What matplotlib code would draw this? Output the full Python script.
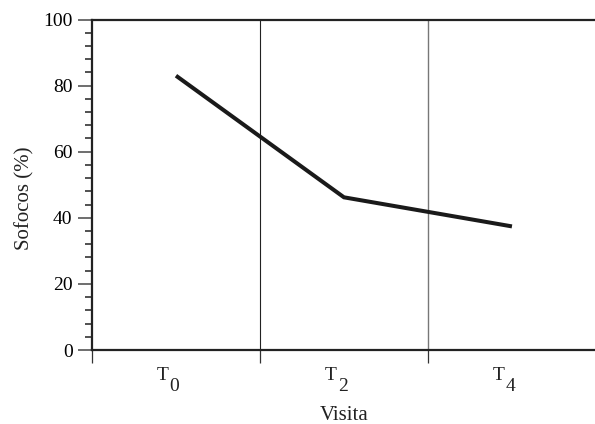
import matplotlib
matplotlib.use("Agg")
import matplotlib.pyplot as plt
from matplotlib.ticker import MultipleLocator

visits = ["0", "2", "4"]
sofocos = [83.0, 46.2, 37.4]

plt.rcParams["font.family"] = ["Liberation Serif", "DejaVu Serif"]

fig = plt.figure(figsize=(5.95, 4.24), dpi=100)
ax = fig.add_axes([0.1546, 0.1745, 0.8470, 0.7795])

xs = [i + 0.5 for i in range(len(visits))]
ax.plot(xs, sofocos, color="#1a1a1a", linewidth=2.9, solid_capstyle="butt",
        solid_joinstyle="miter", zorder=3)

# category boundaries
ax.axvline(1, color="#222222", linewidth=0.8, zorder=1)
ax.axvline(2, color="#777777", linewidth=1.0, zorder=1)

ax.set_xlim(0, 3)
ax.set_ylim(0, 100)

ax.spines["right"].set_visible(False)
for side in ("left", "bottom", "top"):
    ax.spines[side].set_linewidth(1.6)
    ax.spines[side].set_color("#222222")

ax.yaxis.set_major_locator(MultipleLocator(20))
ax.yaxis.set_minor_locator(MultipleLocator(4))
ax.tick_params(axis="y", which="major", length=10, width=1.2, color="#555555",
               labelsize=14, pad=4)
ax.tick_params(axis="y", which="minor", length=5, width=1.2, color="#333333")

ax.set_xticks([0, 1, 2])
ax.set_xticklabels([])
ax.tick_params(axis="x", which="major", length=9, width=0.9, color="#333333")

# T with full-size subscript digit
for x, v in zip(xs, visits):
    ax.annotate("T", xy=(x, 0), xycoords=("data", "axes fraction"),
                xytext=(-9.5, -12), textcoords="offset points",
                ha="center", va="top", fontsize=14, color="#222222")
    ax.annotate(v, xy=(x, 0), xycoords=("data", "axes fraction"),
                xytext=(-1, -20), textcoords="offset points",
                ha="center", va="top", fontsize=14, color="#222222")

ax.set_xlabel("Visita", fontsize=15, labelpad=28, color="#222222")
ax.set_ylabel("Sofocos (%)", fontsize=15, color="#222222")
ax.yaxis.set_label_coords(-0.115, 0.46)

fig.savefig("out.png", dpi=100)
